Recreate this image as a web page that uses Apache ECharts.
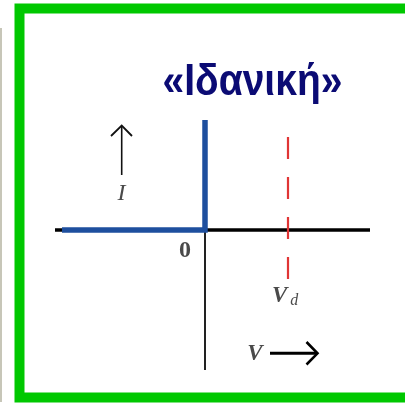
<!DOCTYPE html>
<html>
<head>
<meta charset="utf-8">
<script src="https://cdn.jsdelivr.net/npm/echarts@6/dist/echarts.min.js"></script>
<style>
  html, body { margin: 0; padding: 0; background: #ffffff; }
  #chart { width: 405px; height: 404px; }
</style>
</head>
<body>
<div id="chart"></div>
<script>
// Ideal diode I–V characteristic (arbitrary units)
const reverseBranch = [[-1.43, 0], [0, 0]];   // no current for V < 0
const forwardBranch = [[0, 0], [0, 1.1]];      // unlimited current at V = 0
const voltageRange = [-1.5, 1.65];
const currentRange = [-1.4, 1.1];
const thresholdVoltage = [0.83];               // V_d marker position
const thresholdSpan = [0.93, -0.51];           // vertical extent of the V_d marker
const titleText = ['«Ιδανική»'];
const axisNames = ['I', 'V', '0'];
const thresholdName = ['V', 'd'];

const chart = echarts.init(document.getElementById('chart'), null, { renderer: 'canvas' });

const hAxisLine = [[voltageRange[0], 0], [voltageRange[1], 0]];
const vAxisLine = [[0, currentRange[1]], [0, currentRange[0]]];
const idealCurve = reverseBranch.concat(forwardBranch.slice(1));
const thresholdLine = thresholdSpan.map(i => [thresholdVoltage[0], i]);

const serif = '"Liberation Serif", "DejaVu Serif", serif';
const grey = '#4a4a4a';

const option = {
  animation: false,
  backgroundColor: '#ffffff',
  grid: { left: 55, right: 35, top: 120, bottom: 34 },
  xAxis: { type: 'value', min: voltageRange[0], max: voltageRange[1], show: false },
  yAxis: { type: 'value', min: currentRange[0], max: currentRange[1], show: false },
  series: [
    {
      name: 'V axis', type: 'line', data: hAxisLine, symbol: 'none', silent: true, z: 2,
      lineStyle: { color: '#000000', width: 3.5 }
    },
    {
      name: 'I axis', type: 'line', data: vAxisLine, symbol: 'none', silent: true, z: 2,
      lineStyle: { color: '#222222', width: 2 }
    },
    {
      name: 'V_d', type: 'line', data: thresholdLine, symbol: 'none', silent: true, z: 3,
      lineStyle: { color: '#e03535', width: 2.2, type: [22, 18] }
    },
    {
      name: 'ideal', type: 'line', data: idealCurve, symbol: 'none', silent: true, z: 4,
      lineStyle: { color: '#1e4f9e', width: 5.5, cap: 'butt', join: 'miter' }
    }
  ],
  graphic: [
    // outer green frame
    {
      type: 'rect', z: 10, silent: true,
      shape: { x: 19.5, y: 8.5, width: 420, height: 389 },
      style: { fill: null, stroke: '#00c800', lineWidth: 10 }
    },
    // thin grey rule on the far left
    {
      type: 'line', z: 10, silent: true,
      shape: { x1: 1, y1: 28, x2: 1, y2: 402 },
      style: { stroke: '#b5b3a0', lineWidth: 1.5 }
    },
    // heading
    {
      type: 'text', z: 10, x: 252.5, y: 83, scaleY: 1.12, silent: true,
      style: {
        text: titleText[0], fill: '#0b0b74',
        font: 'bold 39px "Liberation Sans", Arial, sans-serif',
        align: 'center', verticalAlign: 'middle'
      }
    },
    // current arrow ↑
    {
      type: 'line', z: 10, silent: true,
      shape: { x1: 121.7, y1: 126, x2: 121.7, y2: 175 },
      style: { stroke: '#111111', lineWidth: 1.6 }
    },
    {
      type: 'polyline', z: 10, silent: true,
      shape: { points: [[111, 136], [121.7, 125.5], [132, 136]] },
      style: { stroke: '#111111', lineWidth: 1.8, fill: null }
    },
    {
      type: 'text', z: 10, x: 121.5, y: 194, silent: true,
      style: {
        text: axisNames[0], fill: grey,
        font: 'italic 24px ' + serif, align: 'center', verticalAlign: 'middle'
      }
    },
    // origin label
    {
      type: 'text', z: 10, x: 185, y: 251, silent: true,
      style: {
        text: axisNames[2], fill: grey,
        font: 'bold 24px ' + serif, align: 'center', verticalAlign: 'middle'
      }
    },
    // V_d label
    {
      type: 'text', z: 10, x: 272, y: 296, silent: true,
      style: {
        text: '{v|' + thresholdName[0] + '}{d|' + thresholdName[1] + '}',
        align: 'left', verticalAlign: 'middle',
        rich: {
          v: { font: 'italic bold 23px ' + serif, fill: grey },
          d: { font: 'italic 16px ' + serif, fill: grey, padding: [10, 0, 0, 3] }
        }
      }
    },
    // voltage label and arrow →
    {
      type: 'text', z: 10, x: 255, y: 354, silent: true,
      style: {
        text: axisNames[1], fill: grey,
        font: 'italic bold 23px ' + serif, align: 'center', verticalAlign: 'middle'
      }
    },
    {
      type: 'line', z: 10, silent: true,
      shape: { x1: 270, y1: 353.3, x2: 316, y2: 353.3 },
      style: { stroke: '#000000', lineWidth: 3 }
    },
    {
      type: 'polyline', z: 10, silent: true,
      shape: { points: [[306.5, 342], [317.5, 353.3], [306.5, 364.5]] },
      style: { stroke: '#000000', lineWidth: 2.6, fill: null }
    }
  ]
};

chart.setOption(option);
</script>
</body>
</html>
